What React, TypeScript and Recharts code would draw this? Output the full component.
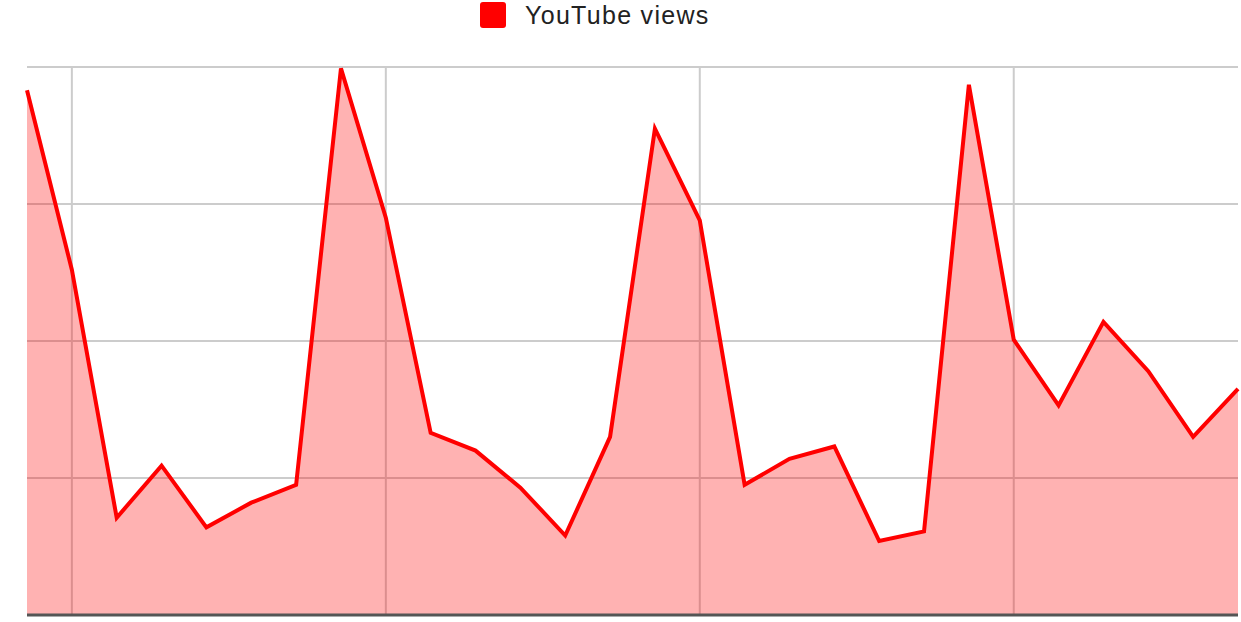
import {
  Area,
  AreaChart,
  CartesianGrid,
  ReferenceLine,
  XAxis,
  YAxis,
} from "recharts";

const DAYS = [
  0, 1, 2, 3, 4, 5, 6, 7, 8, 9, 10, 11, 12, 13, 14, 15, 16, 17, 18, 19, 20, 21,
  22, 23, 24, 25, 26, 27,
];
const VIEWS = [
  3830, 2520, 710, 1090, 640, 820, 950, 3990, 2900, 1330, 1200, 930, 580, 1300,
  3550, 2880, 950, 1140, 1230, 540, 610, 3870, 2010, 1530, 2140, 1780, 1300,
  1650,
];
const WEEK_TICKS = [1, 8, 15, 22];
const Y_TICKS = [1000, 2000, 3000, 4000];

const LINE_RED = "#ff0000";
const FILL_RED = "rgba(255, 0, 0, 0.3)";
const GRID = "#cccccc";

const data = DAYS.map((day, i) => ({ day, views: VIEWS[i] }));

export default function App() {
  return (
    <div
      style={{
        position: "absolute",
        left: 0,
        top: 0,
        width: 1241,
        height: 622,
        background: "#fff",
        fontFamily: "'Liberation Sans', Arial, sans-serif",
      }}
    >
      <div
        style={{
          position: "absolute",
          top: 0,
          left: 480,
          height: 30,
          display: "flex",
          alignItems: "center",
          gap: 19,
        }}
      >
        <span
          style={{
            width: 26,
            height: 26,
            borderRadius: 3,
            background: LINE_RED,
            display: "inline-block",
          }}
        />
        <span style={{ fontSize: 25, letterSpacing: 1.3, color: "#222" }}>
          YouTube views
        </span>
      </div>
      <AreaChart
        width={1241}
        height={622}
        data={data}
        margin={{ top: 67, right: 3, left: 27, bottom: 7 }}
      >
        <XAxis
          dataKey="day"
          type="number"
          domain={[0, 27]}
          ticks={WEEK_TICKS}
          hide
        />
        <YAxis domain={[0, 4000]} ticks={Y_TICKS} hide />
        <CartesianGrid
          stroke={GRID}
          strokeWidth={2}
          horizontalValues={Y_TICKS}
          verticalValues={WEEK_TICKS}
        />
        <Area
          type="linear"
          dataKey="views"
          name="YouTube views"
          stroke={LINE_RED}
          strokeWidth={4}
          fill={FILL_RED}
          fillOpacity={1}
          isAnimationActive={false}
        />
        <ReferenceLine y={0} stroke="#555" strokeWidth={3} />
      </AreaChart>
    </div>
  );
}
